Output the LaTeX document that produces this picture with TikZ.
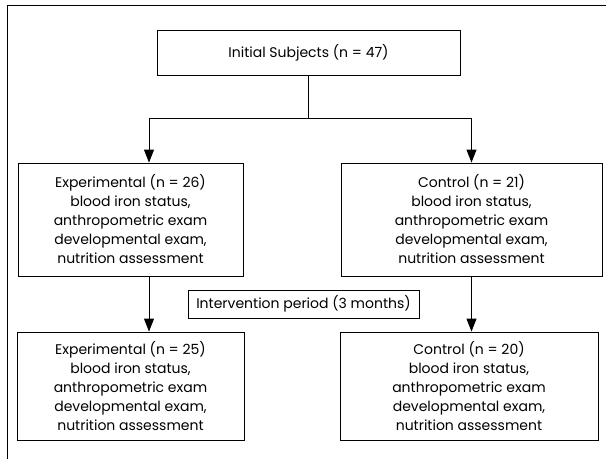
\documentclass[tikz,border=0pt]{standalone}
\usepackage{fontspec}
\setmainfont{Poppins}
\usetikzlibrary{arrows.meta}
\begin{document}
\begin{tikzpicture}[x=1pt, y=-1pt, line width=0.9pt,
    >={Triangle[width=10pt,length=13pt]},
    box/.style={draw, align=center, inner sep=0pt, font=\fontsize{14}{19}\selectfont}]
    \useasboundingbox (0,0) rectangle (606,461);
    \draw (606,5) -- (7,5) -- (7,459);
    \node [box, minimum width=303pt, minimum height=45pt] (A0_0) at (308.5,52.5) {Initial Subjects (n = 47)};
    \node [box, minimum width=225pt, minimum height=113pt] (A1_0) at (130.5,219.5) {Experimental (n = 26)\\blood iron status,\\anthropometric exam\\developmental exam,\\nutrition assessment};
    \node [box, minimum width=261pt, minimum height=113pt] (A1_1) at (471.5,219.5) {Control (n = 21)\\blood iron status,\\anthropometric exam\\developmental exam,\\nutrition assessment};
    \node [box, minimum width=231pt, minimum height=28pt] (M) at (303.5,304) {Intervention period (3 months)};
    \node [box, minimum width=227pt, minimum height=108pt] (A2_0) at (130.5,386) {Experimental (n = 25)\\blood iron status,\\anthropometric exam\\developmental exam,\\nutrition assessment};
    \node [box, minimum width=258pt, minimum height=108pt] (A2_1) at (469,386) {Control (n = 20)\\blood iron status,\\anthropometric exam\\developmental exam,\\nutrition assessment};
    \coordinate (J) at (308.5,118);
    \path (A0_0) edge (J);
    \draw [->] (J) -| ([xshift=18.5pt]A1_0.north);
    \draw [->] (J) -| (A1_1.north);
    \draw [->] ([xshift=18.5pt]A1_0.south) -- ([xshift=18.5pt]A1_0.south |- A2_0.north);
    \draw [->] (A1_1.south) -- (A1_1.south |- A2_1.north);
\end{tikzpicture}
\end{document}
